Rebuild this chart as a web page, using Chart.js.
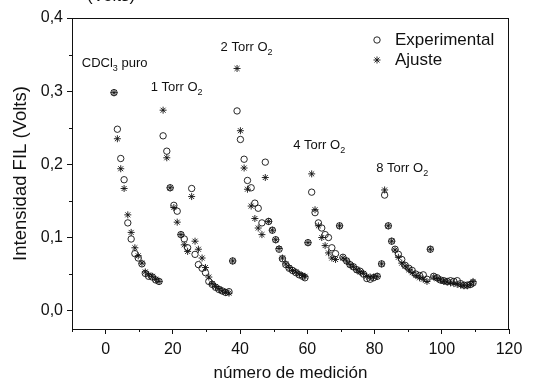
<!DOCTYPE html>
<html>
<head>
<meta charset="utf-8">
<script src="https://cdn.jsdelivr.net/npm/chart.js@4/dist/chart.umd.min.js"></script>
<style>
html,body{margin:0;padding:0;background:#fff;}
#wrap{width:547px;height:384px;position:relative;}
</style>
</head>
<body>
<div id="wrap"><canvas id="c" width="547" height="384"></canvas></div>
<script>
// número de medición (x) shared by both series
const medicion = [
  2.5,3.5,4.5,5.5,6.6,7.6,8.7,9.7,10.8,11.8,12.8,13.9,14.9,15.9,
  17.1,18.2,19.2,20.3,21.3,22.4,23.4,24.4,25.6,26.6,27.6,28.7,29.7,30.7,31.7,32.7,33.7,34.7,35.7,36.7,
  37.8,39.1,40.1,41.2,42.2,43.3,44.4,45.4,46.5,47.5,48.5,49.6,50.6,51.6,52.6,53.6,54.6,55.6,56.6,57.6,58.6,59.3,
  60.2,61.3,62.3,63.3,64.3,65.3,66.3,67.3,68.4,69.6,70.6,71.7,72.7,73.7,74.7,75.7,76.7,77.7,78.7,79.7,80.8,
  82.1,83.0,84.1,85.1,86.1,87.1,88.1,89.1,90.2,91.2,92.3,93.4,94.5,95.6,96.6,97.6,98.6,99.6,100.6,101.6,102.6,103.6,104.6,105.6,106.6,107.6,108.6,109.3
];
const experimental = [
  .298,.248,.208,.179,.120,.098,.078,.072,.064,.051,.047,.046,.042,.040,
  .239,.218,.168,.144,.136,.104,.098,.086,.167,.077,.063,.058,.052,.040,.036,.032,.029,.027,.025,.026,
  .068,.273,.234,.207,.178,.168,.147,.140,.120,.203,.122,.110,.097,.084,.071,.063,.058,.055,.052,.049,.047,.045,
  .093,.162,.134,.120,.113,.104,.100,.086,.078,.116,.073,.068,.063,.060,.056,.054,.050,.044,.043,.045,.047,
  .064,.158,.116,.095,.084,.077,.070,.062,.058,.055,.050,.048,.049,.043,.084,.047,.045,.042,.041,.040,.041,.040,.041,.037,.035,.035,.036,.038
];
const ajuste = [
  .298,.235,.194,.167,.131,.107,.086,.075,.065,.053,.049,.047,.043,.040,
  .274,.209,.168,.141,.121,.104,.090,.081,.156,.095,.084,.072,.059,.046,.037,.033,.030,.027,.025,.024,
  .068,.331,.246,.195,.166,.143,.126,.113,.104,.182,.122,.110,.097,.085,.072,.064,.059,.055,.053,.050,.048,.047,
  .093,.187,.138,.116,.100,.089,.079,.072,.070,.116,.072,.068,.063,.060,.056,.053,.051,.047,.046,.046,.047,
  .064,.165,.116,.095,.083,.073,.065,.061,.056,.052,.048,.045,.043,.040,.084,.046,.044,.042,.040,.039,.038,.037,.036,.035,.034,.034,.036,.040
];
const seriesNames = ['Experimental', 'Ajuste'];
const xTicks = [0, 20, 40, 60, 80, 100, 120];
const yTicks = [0.0, 0.1, 0.2, 0.3, 0.4];
const annotationTexts = [
  [['CDCl', false], ['3', true], [' puro', false]],
  [['1 Torr O', false], ['2', true]],
  [['2 Torr O', false], ['2', true]],
  [['4 Torr O', false], ['2', true]],
  [['8 Torr O', false], ['2', true]]
];
// anchor points of the annotations in data coordinates (left, baseline)
const annotationAnchors = [[-7.1, 0.333], [13.4, 0.300], [34.2, 0.355], [55.8, 0.2205], [80.5, 0.190]];

const FONT = "'Liberation Sans', Arial, sans-serif";
const INK = '#111';

const isMajorX = v => Math.abs(v % 20) < 1e-6;
const isMajorY = v => Math.abs(v * 10 - Math.round(v * 10)) < 1e-6;

const extras = {
  id: 'extras',
  afterDraw(chart) {
    const {ctx, chartArea: a, scales: {x, y}} = chart;
    ctx.save();
    ctx.strokeStyle = INK;
    ctx.lineWidth = 1;
    // top and right frame
    ctx.beginPath();
    ctx.moveTo(a.left, a.top + 0.5); ctx.lineTo(a.right, a.top + 0.5);
    ctx.moveTo(a.right - 0.5, a.top); ctx.lineTo(a.right - 0.5, a.bottom);
    ctx.stroke();
    // minor ticks
    ctx.beginPath();
    for (let v = -10; v <= 120; v += 10) {
      if (isMajorX(v)) continue;
      const px = Math.round(x.getPixelForValue(v)) + 0.5;
      ctx.moveTo(px, a.bottom); ctx.lineTo(px, a.bottom + 3);
    }
    for (let k = 1; k < 8; k += 2) {
      const v = k * 0.05;
      const py = Math.round(y.getPixelForValue(v)) + 0.5;
      ctx.moveTo(a.left, py); ctx.lineTo(a.left - 3, py);
    }
    ctx.stroke();
    // annotations
    ctx.fillStyle = INK;
    ctx.textBaseline = 'alphabetic';
    annotationTexts.forEach((parts, i) => {
      let px = x.getPixelForValue(annotationAnchors[i][0]);
      const py = y.getPixelForValue(annotationAnchors[i][1]);
      parts.forEach(([t, sub]) => {
        ctx.font = (sub ? '9px ' : '13px ') + FONT;
        ctx.fillText(t, px, sub ? py + 4 : py);
        px += ctx.measureText(t).width;
      });
    });
    // legend
    const lx = 377, ly = [40, 60];
    chart.data.datasets.forEach((ds, i) => {
      ctx.strokeStyle = INK;
      ctx.fillStyle = 'rgba(0,0,0,0)';
      ctx.lineWidth = 0.9;
      Chart.helpers.drawPoint(ctx, {pointStyle: ds.pointStyle, radius: ds.pointRadius, borderWidth: 0.9}, lx, ly[i]);
      ctx.fillStyle = INK;
      ctx.font = '17px ' + FONT;
      ctx.textBaseline = 'middle';
      ctx.fillText(seriesNames[i], 395, ly[i]);
    });
    // remnant of a cut title at the top edge
    ctx.font = '17px ' + FONT;
    ctx.textBaseline = 'alphabetic';
    ctx.fillText('(Volts)', 87, 1);
    ctx.restore();
  }
};

new Chart(document.getElementById('c'), {
  type: 'scatter',
  data: {
    datasets: [
      {
        label: seriesNames[0],
        data: medicion.map((m, i) => ({x: m, y: experimental[i]})),
        pointStyle: 'circle', pointRadius: 3.2, pointBorderWidth: 0.9,
        borderColor: INK, backgroundColor: 'rgba(0,0,0,0)'
      },
      {
        label: seriesNames[1],
        data: medicion.map((m, i) => ({x: m, y: ajuste[i]})),
        pointStyle: 'star', pointRadius: 3.5, pointBorderWidth: 0.9,
        borderColor: INK, backgroundColor: INK
      }
    ]
  },
  options: {
    responsive: false,
    animation: false,
    devicePixelRatio: 1,
    layout: {padding: {top: 18, right: 38, left: 0, bottom: 0}},
    plugins: {legend: {display: false}, tooltip: {enabled: false}},
    scales: {
      x: {
        type: 'linear', min: -10, max: 120,
        afterFit: s => { s.height = 55; },
        ticks: {
          stepSize: 10, autoSkip: false, maxRotation: 0, padding: 6, color: INK,
          font: {family: FONT, size: 16},
          callback: v => (xTicks.includes(v) ? String(v) : '')
        },
        grid: {drawOnChartArea: false, tickLength: 5, color: c => (c.tick && isMajorX(c.tick.value) ? INK : 'rgba(0,0,0,0)')},
        border: {color: INK, width: 1},
        title: {display: true, text: 'número de medición', color: INK, font: {family: FONT, size: 17}, padding: {top: 0, bottom: 0}}
      },
      y: {
        type: 'linear', min: -0.025, max: 0.4,
        afterFit: s => { s.width = 72; },
        ticks: {
          stepSize: 0.05, autoSkip: false, padding: 4, color: INK,
          font: {family: FONT, size: 16},
          callback: v => {
            const hit = yTicks.find(t => Math.abs(t - v) < 1e-6);
            return hit === undefined ? '' : hit.toFixed(1).replace('.', ',');
          }
        },
        grid: {drawOnChartArea: false, tickLength: 5, color: c => (c.tick && isMajorY(c.tick.value) ? INK : 'rgba(0,0,0,0)')},
        border: {color: INK, width: 1},
        title: {display: true, text: 'Intensidad FIL (Volts)', color: INK, font: {family: FONT, size: 18.5}, padding: {top: 10, bottom: 0}}
      }
    }
  },
  plugins: [extras]
});
</script>
</body>
</html>
